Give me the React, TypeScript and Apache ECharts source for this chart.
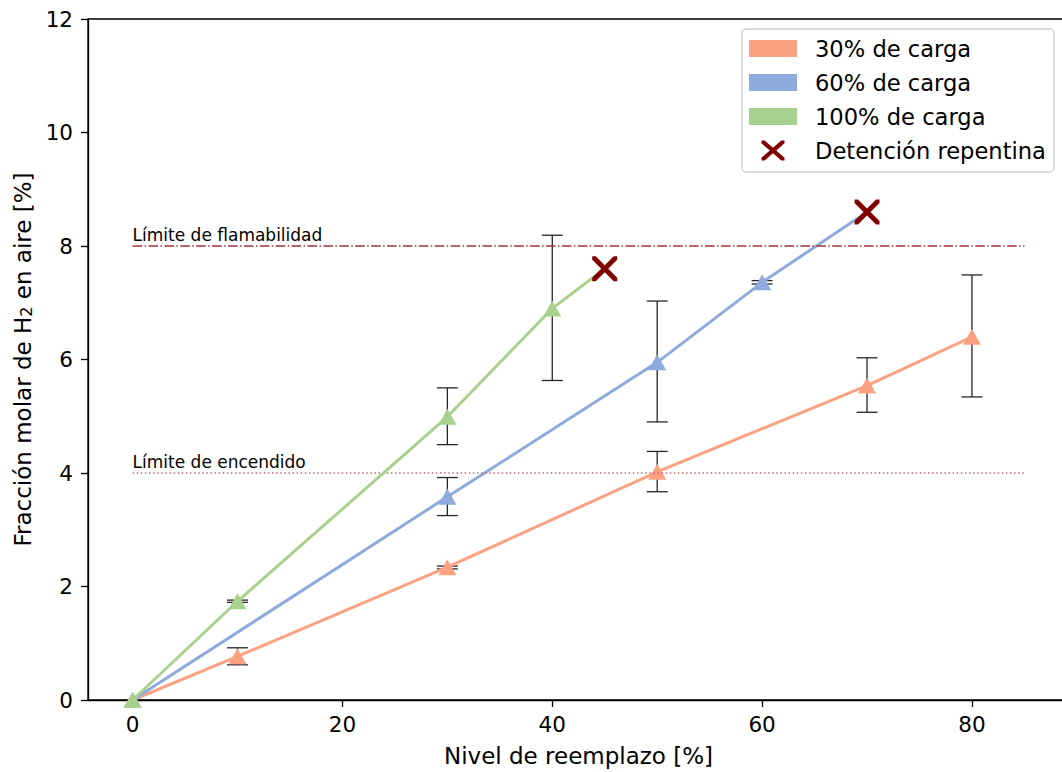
import React, { useEffect, useRef } from "react";
import * as echarts from "echarts";

const FONT = "DejaVu Sans";

// Series data (x = nivel de reemplazo [%], y = fracción molar [%])
const x30 = [0, 10, 30, 50, 70, 80];
const y30 = [0, 0.77, 2.34, 4.02, 5.54, 6.4];
const x60 = [0, 30, 50, 60, 70];
const y60 = [0, 3.58, 5.95, 7.36, 8.6];
const x100 = [0, 10, 30, 40, 45];
const y100 = [0, 1.74, 4.99, 6.9, 7.6];

// Error bars
const errX30 = [10, 30, 50, 70, 80];
const errLo30 = [0.62, 2.31, 3.67, 5.07, 5.34];
const errHi30 = [0.92, 2.36, 4.38, 6.03, 7.49];
const errX60 = [30, 50, 60];
const errLo60 = [3.25, 4.9, 7.33];
const errHi60 = [3.92, 7.03, 7.39];
const errX100 = [10, 30, 40];
const errLo100 = [1.72, 4.5, 5.63];
const errHi100 = [1.76, 5.5, 8.19];

// Sudden stop points
const stopX = [45, 70];
const stopY = [7.6, 8.6];

// Limit lines
const limitValues = [8, 4];
const limitNames = ["Límite de flamabilidad", "Límite de encendido"];
const limitStart = 0;
const limitEnd = 85;

const xTicks = [0, 20, 40, 60, 80];

const seriesNames = ["30% de carga", "60% de carga", "100% de carga"];
const stopName = "Detención repentina";

const COLORS = ["#FCA282", "#8FAADC", "#A9D18E"];
const STOP_COLOR = "#800000";

const X_PATH =
  "path://M0,0 L1.4,0 L5,3.6 L8.6,0 L10,0 L10,1.4 L6.4,5 L10,8.6 L10,10 L8.6,10 L5,6.4 L1.4,10 L0,10 L0,8.6 L3.6,5 L0,1.4 Z";
const LEGEND_X_PATH =
  "path://M0,0 L1.6,0 L5.75,3.6 L9.9,0 L11.5,0 L11.5,1.4 L7.35,5 L11.5,8.6 L11.5,10 L9.9,10 L5.75,6.4 L1.6,10 L0,10 L0,8.6 L4.15,5 L0,1.4 Z";
const LEGEND_RECT = "path://M0,0 L48,0 L48,17 L0,17 Z";

function zip(xs: number[], ys: number[]) {
  return xs.map((x, i) => [x, ys[i]]);
}

function errData(xs: number[], lo: number[], hi: number[]) {
  return xs.map((x, i) => [x, lo[i], hi[i]]);
}

function lineData(xs: number[], ys: number[]) {
  return xs.map((x, i) => {
    const isStop = stopX.some((sx, j) => sx === x && stopY[j] === ys[i]);
    return isStop ? { value: [x, ys[i]], symbol: "none" } : [x, ys[i]];
  });
}

function errorRender(params: any, api: any) {
  const x = api.value(0);
  const lo = api.value(1);
  const hi = api.value(2);
  const pLo = api.coord([x, lo]);
  const pHi = api.coord([x, hi]);
  const hw = 10.5;
  const st = { stroke: "#262626", lineWidth: 1.3 };
  return {
    type: "group",
    children: [
      { type: "line", shape: { x1: pLo[0], y1: pLo[1], x2: pHi[0], y2: pHi[1] }, style: st },
      { type: "line", shape: { x1: pLo[0] - hw, y1: pLo[1], x2: pLo[0] + hw, y2: pLo[1] }, style: st },
      { type: "line", shape: { x1: pHi[0] - hw, y1: pHi[1], x2: pHi[0] + hw, y2: pHi[1] }, style: st },
    ],
  };
}

export default function App() {
  const ref = useRef<HTMLDivElement>(null);
  useEffect(() => {
    if (!ref.current) return;
    const chart = echarts.init(ref.current, null, { renderer: "svg" });

    const xs = [x30, x60, x100];
    const ys = [y30, y60, y100];
    const errs = [
      errData(errX30, errLo30, errHi30),
      errData(errX60, errLo60, errHi60),
      errData(errX100, errLo100, errHi100),
    ];

    const errorSeries = errs.map((d, i) => ({
      type: "custom",
      name: "err" + i,
      renderItem: errorRender,
      data: d,
      encode: { x: 0, y: [1, 2] },
      z: 1,
      silent: true,
    }));

    const lineSeries = seriesNames.map((name, i) => ({
      type: "line",
      name,
      data: lineData(xs[i], ys[i]),
      color: COLORS[i],
      symbol: "triangle",
      symbolSize: [18, 16],
      showSymbol: true,
      lineStyle: { width: 3, color: COLORS[i] },
      itemStyle: { color: COLORS[i] },
      z: 3 + i,
      emphasis: { disabled: true },
    }));

    const dashTypes: any[] = [[9.6, 2.4, 1.5, 2.4], [1.5, 2.6]];
    const limitColors = ["#A3343A", "#C46A6A"];
    const limitSeries = {
      type: "line",
      name: "limits",
      data: [],
      silent: true,
      z: 2,
      markLine: {
        silent: true,
        symbol: ["none", "none"],
        animation: false,
        data: limitValues.map((v, i) => [
          {
            coord: [limitStart, v],
            lineStyle: { color: limitColors[i], width: 1.5, type: dashTypes[i] },
            label: {
              show: true,
              position: "insideStartTop",
              formatter: limitNames[i],
              color: "#000",
              fontSize: 17,
              fontFamily: FONT,
              distance: [0, 3],
            },
          },
          { coord: [limitEnd, v] },
        ]),
      },
    };

    const stopSeries = {
      type: "scatter",
      name: stopName,
      data: zip(stopX, stopY),
      symbol: X_PATH,
      symbolSize: 25,
      itemStyle: { color: STOP_COLOR, opacity: 1 },
      color: STOP_COLOR,
      z: 10,
    };

    chart.setOption({
      animation: false,
      textStyle: { fontFamily: FONT },
      grid: {
        left: 88,
        top: 19,
        right: 0,
        bottom: 72,
        show: true,
        borderColor: "#000",
        borderWidth: 1.3,
        backgroundColor: "#fff",
      },
      legend: {
        orient: "vertical",
        left: 742,
        top: 29,
        padding: [8, 8, 10, 7],
        backgroundColor: "#fff",
        borderColor: "#d0d0d0",
        borderWidth: 1.3,
        borderRadius: 4,
        itemWidth: 48,
        itemHeight: 20,
        itemGap: 11,
        symbolKeepAspect: true,
        selectedMode: false,
        textStyle: { fontSize: 22.6, fontFamily: FONT, color: "#000", lineHeight: 23, padding: [0, 0, 0, 13] },
        data: [
          ...seriesNames.map((n) => ({ name: n, icon: LEGEND_RECT })),
          { name: stopName, icon: LEGEND_X_PATH },
        ],
      },
      xAxis: {
        type: "value",
        min: -4.25,
        max: 89.25,
        name: "Nivel de reemplazo [%]",
        nameLocation: "middle",
        nameGap: 44,
        nameTextStyle: { fontSize: 23, fontFamily: FONT, color: "#000" },
        axisLine: { show: true, onZero: false, lineStyle: { color: "#000", width: 1.3 } },
        axisTick: { show: true, length: 7, lineStyle: { color: "#000", width: 1.3 }, customValues: xTicks },
        axisLabel: { fontSize: 21.5, fontFamily: FONT, color: "#000", margin: 13, customValues: xTicks },
        splitLine: { show: false },
      },
      yAxis: {
        type: "value",
        min: 0,
        max: 12,
        interval: 2,
        name: "Fracción molar de H{sub|2} en aire [%]",
        nameLocation: "middle",
        nameGap: 54,
        nameTextStyle: {
          fontSize: 23,
          fontFamily: FONT,
          color: "#000",
          rich: { sub: { fontSize: 16, fontFamily: FONT, color: "#000", verticalAlign: "bottom", padding: [7, 0, 0, 0] } },
        },
        axisLine: { show: true, onZero: false, lineStyle: { color: "#000", width: 1.3 } },
        axisTick: { show: true, length: 7, lineStyle: { color: "#000", width: 1.3 } },
        axisLabel: { fontSize: 21.5, fontFamily: FONT, color: "#000", margin: 15 },
        splitLine: { show: false },
      },
      series: [limitSeries, ...errorSeries, ...lineSeries, stopSeries],
    });

    return () => chart.dispose();
  }, []);

  return (
    <div style={{ position: "absolute", left: 0, top: 0, width: 1062, height: 772, overflow: "hidden", background: "#fff" }}>
      <div ref={ref} style={{ width: 1069, height: 772 }} />
    </div>
  );
}
